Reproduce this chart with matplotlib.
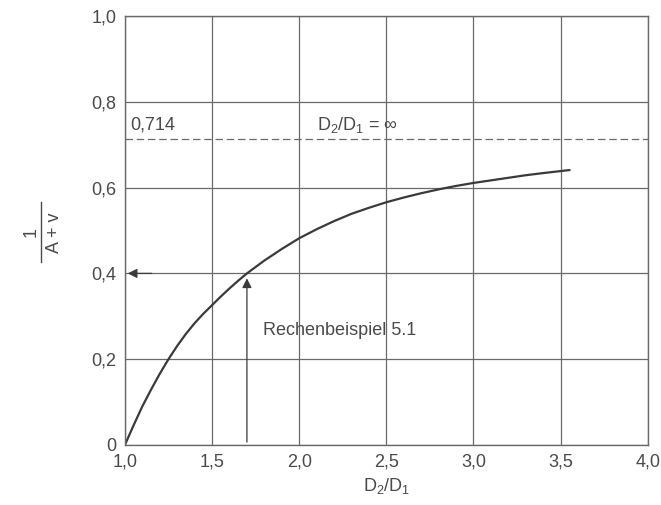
import matplotlib.pyplot as plt
from matplotlib.lines import Line2D

# curve
ratio = [1.0, 1.05, 1.1, 1.15, 1.2, 1.25, 1.3, 1.35, 1.4, 1.45, 1.5, 1.55, 1.6, 1.65, 1.7,
         1.8, 1.9, 2.0, 2.1, 2.2, 2.3, 2.4, 2.5, 2.6, 2.7, 2.8, 2.9, 3.0, 3.1, 3.2, 3.3, 3.4, 3.55]
value = [0.0, 0.046, 0.090, 0.129, 0.166, 0.200, 0.231, 0.259, 0.284, 0.306, 0.326, 0.346, 0.365,
         0.383, 0.400, 0.430, 0.457, 0.482, 0.503, 0.522, 0.539, 0.553, 0.566, 0.577, 0.587, 0.596,
         0.604, 0.611, 0.617, 0.623, 0.629, 0.634, 0.641]

limit = 0.714
example_x = 1.7
example_y = 0.4

xticks = [1.0, 1.5, 2.0, 2.5, 3.0, 3.5, 4.0]
xlabels = ['1,0', '1,5', '2,0', '2,5', '3,0', '3,5', '4,0']
yticks = [0, 0.2, 0.4, 0.6, 0.8, 1.0]
ylabels = ['0', '0,2', '0,4', '0,6', '0,8', '1,0']

plt.rcParams['font.family'] = ['Liberation Sans', 'DejaVu Sans']
plt.rcParams['mathtext.fontset'] = 'custom'
plt.rcParams['mathtext.rm'] = 'Liberation Sans'
plt.rcParams['mathtext.it'] = 'Liberation Sans'

ink = '#4a4a4a'
grid = '#6a6a6a'

fig = plt.figure(figsize=(6.61, 5.05), dpi=100)
ax = fig.add_axes([0.189, 0.119, 0.791, 0.849])

ax.set_xlim(1.0, 4.0)
ax.set_ylim(0, 1.0)
ax.set_xticks(xticks, labels=xlabels)
ax.set_yticks(yticks, labels=ylabels)
ax.tick_params(length=0, labelsize=13, colors=ink, pad=6)
ax.grid(True, color=grid, lw=0.9)
for s in ax.spines.values():
    s.set_color(grid)
    s.set_linewidth(1.0)

ax.axhline(limit, color=grid, lw=0.9, ls=(0, (6, 3)))
ax.plot(ratio, value, color='#3a3a3a', lw=1.6)

# Rechenbeispiel arrows
ax.annotate('', xy=(1.0, example_y), xytext=(1.17, example_y),
            arrowprops=dict(arrowstyle='-|>', color='#3a3a3a', lw=0.9, mutation_scale=14))
ax.annotate('', xy=(example_x, example_y - 0.005), xytext=(example_x, 0),
            arrowprops=dict(arrowstyle='-|>', color='#3a3a3a', lw=0.9, mutation_scale=14))

ax.text(1.03, 0.745, '0,714', fontsize=13, color=ink, va='center')
ax.text(2.1, 0.745, r'D$_2$/D$_1$ = $\infty$', fontsize=13, color=ink, va='center')
ax.text(1.79, 0.268, 'Rechenbeispiel 5.1', fontsize=13, color=ink, va='center')

ax.set_xlabel(r'D$_2$/D$_1$', fontsize=13, color=ink, labelpad=4)

# y label as a stacked fraction 1 / (A + v)
fig.text(0.047, 0.54, '1', fontsize=13, color=ink, rotation=90, ha='center', va='center')
fig.text(0.083, 0.54, 'A + v', fontsize=13, color=ink, rotation=90, ha='center', va='center')
fig.add_artist(Line2D([0.062, 0.062], [0.481, 0.600], transform=fig.transFigure,
                      color=ink, lw=1.0))

fig.savefig('out.png', dpi=100)
